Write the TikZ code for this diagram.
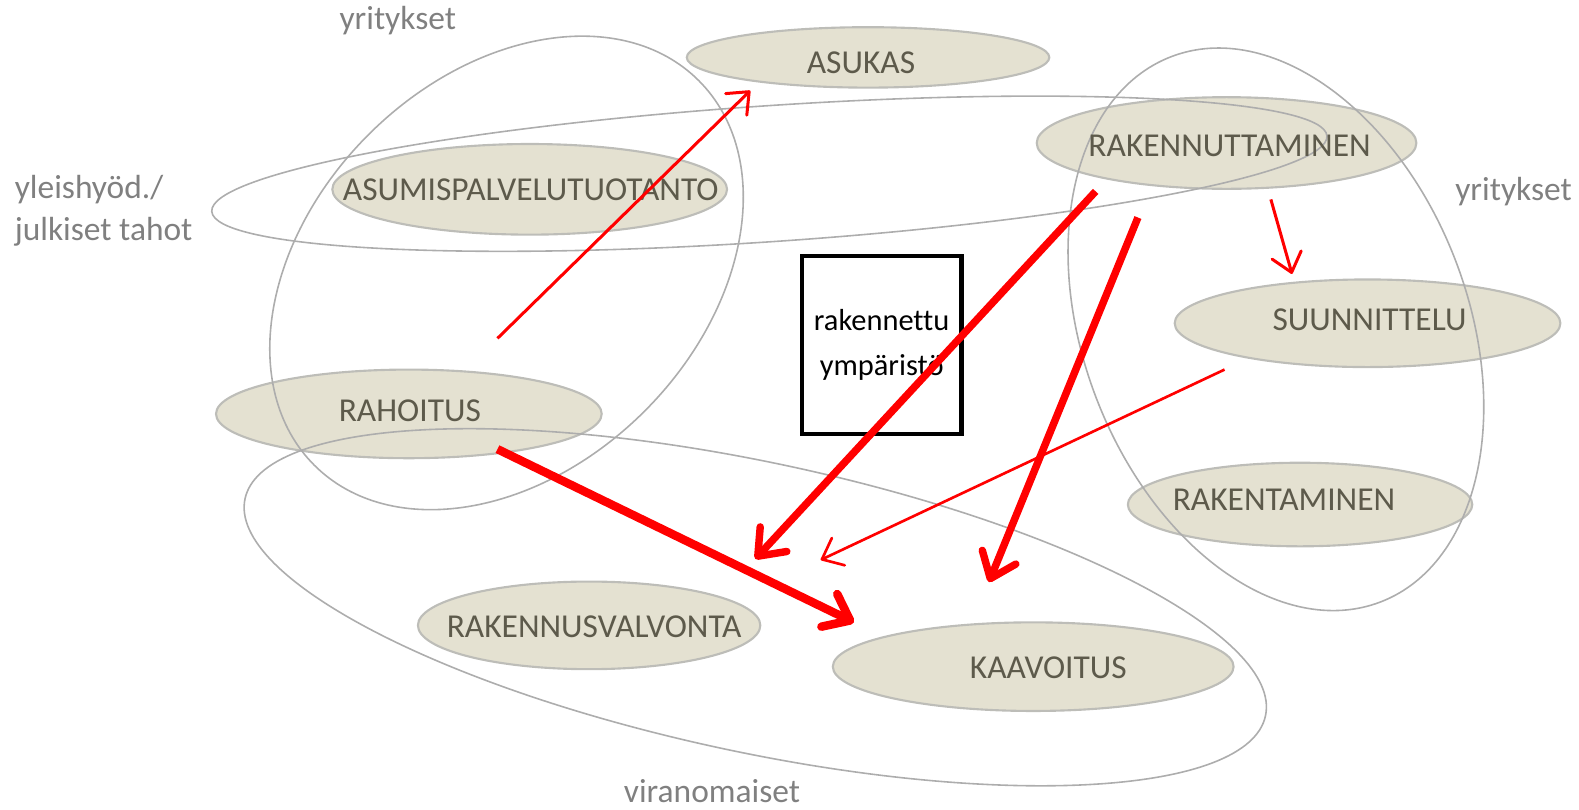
\documentclass[tikz,border=0pt]{standalone}
\usepackage{fontspec}
\setmainfont{Carlito}[Ligatures=NoCommon]
\usepackage{tikz}
\usetikzlibrary{arrows.meta}
\definecolor{pillfill}{HTML}{E4E1D1}
\definecolor{pillline}{HTML}{BDBDB8}
\definecolor{pilltext}{HTML}{5D5A4B}
\definecolor{grpline}{HTML}{ADADAD}
\definecolor{tagtext}{HTML}{808080}
\definecolor{arrred}{HTML}{FF0000}

\begin{document}
\begin{tikzpicture}[
    pill/.style={fill=pillfill,draw=pillline,line width=0.6pt},
    grp/.style={draw=grpline,line width=0.45pt},
    lbl/.style={font=\fontsize{9.45}{11}\selectfont,text=pilltext,inner sep=0pt},
    tag/.style={font=\fontsize{9.45}{11.9}\selectfont,text=tagtext,inner sep=0pt},
    envbox/.style={draw=black,fill=white,line width=1.28pt,minimum width=1.585cm,minimum height=1.765cm,
      inner sep=0pt,align=center,font=\fontsize{8.6}{12.5}\selectfont},
    thinarr/.style={arrred,line width=0.85pt,-{Straight Barb[length=1.8mm,width=3mm,round]}},
    thickarr/.style={arrred,line width=2.1pt,-{Straight Barb[length=2.3mm,width=3.6mm,round]}}
  ]
  \useasboundingbox (0,0) rectangle (15.68,8.04);

  % filled ellipses
  \draw[pill] (8.62,7.47) ellipse [x radius=1.80, y radius=0.30];
  \draw[pill] (5.26,6.16) ellipse [x radius=1.96, y radius=0.45];
  \draw[pill] (4.06,3.93) ellipse [x radius=1.915, y radius=0.44];
  \draw[pill] (12.18,6.62) ellipse [x radius=1.885, y radius=0.455];
  \draw[pill] (13.58,4.83) ellipse [x radius=1.915, y radius=0.435];
  \draw[pill] (12.91,3.03) ellipse [x radius=1.71, y radius=0.415];
  \draw[pill] (5.85,1.83) ellipse [x radius=1.70, y radius=0.435];
  \draw[pill] (10.26,1.42) ellipse [x radius=1.99, y radius=0.44];

  % groups
  \draw[grp] (5.03,5.33) ellipse [x radius=2.70, y radius=1.94, rotate=45];
  \draw[grp] (7.64,6.315) ellipse [x radius=5.55, y radius=0.675, rotate=3.87];
  \draw[grp] (7.50,2.01) ellipse [x radius=5.18, y radius=1.44, rotate=-12];
  \draw[grp] (12.67,4.77) ellipse [x radius=1.91, y radius=2.90, rotate=21];

  % ellipse texts
  \node[lbl] (asukas) at (8.55,7.42) {ASUKAS};
  \node[lbl] (asumis) at (5.27,6.16) {ASUMISPALVELUTUOTANTO};
  \node[lbl] (rahoitus) at (4.07,3.96) {RAHOITUS};
  \node[lbl] (rakennuttaminen) at (12.21,6.59) {RAKENNUTTAMINEN};
  \node[lbl] (suunnittelu) at (13.60,4.86) {SUUNNITTELU};
  \node[lbl] (rakentaminen) at (12.75,3.08) {RAKENTAMINEN};
  \node[lbl] (valvonta) at (5.90,1.82) {RAKENNUSVALVONTA};
  \node[lbl] (kaavoitus) at (10.41,1.41) {KAAVOITUS};

  % group names
  \node[tag] (yritA) at (3.95,7.84) {yritykset};
  \node[tag,anchor=west,align=left] (yleis) at (0.14,5.95) {yleishyöd./\\julkiset tahot};
  \node[tag] (yritB) at (15.03,6.14) {yritykset};
  \node[tag] (viran) at (7.07,0.18) {viranomaiset};

  % centre box
  \node[envbox] (ymparisto) at (8.755,4.615) {rakennettu\\ympäristö};

  % arrows
  \coordinate (fromRah1) at (4.94,4.68);
  \coordinate (toAsukas) at (7.45,7.14);
  \coordinate (fromRaknt1) at (10.88,6.14);
  \coordinate (toValv1) at (7.50,2.49);
  \coordinate (fromRaknt2) at (11.30,5.88);
  \coordinate (toKaav1) at (9.82,2.26);
  \coordinate (fromRaknt3) at (12.62,6.06);
  \coordinate (toSuun) at (12.83,5.32);
  \coordinate (fromSuun) at (12.16,4.37);
  \coordinate (toValv2) at (8.15,2.48);
  \coordinate (fromRah2) at (4.94,3.58);
  \coordinate (toKaav2) at (8.48,1.86);

  \draw[thinarr] (fromRah1) -- (toAsukas);
  \draw[thickarr] (fromRaknt1) -- (toValv1);
  \draw[thickarr] (fromRaknt2) -- (toKaav1);
  \draw[thinarr] (fromRaknt3) -- (toSuun);
  \draw[thinarr,line width=0.75pt] (fromSuun) -- (toValv2);
  \draw[thickarr,line width=2.4pt] (fromRah2) -- (toKaav2);
\end{tikzpicture}
\end{document}
